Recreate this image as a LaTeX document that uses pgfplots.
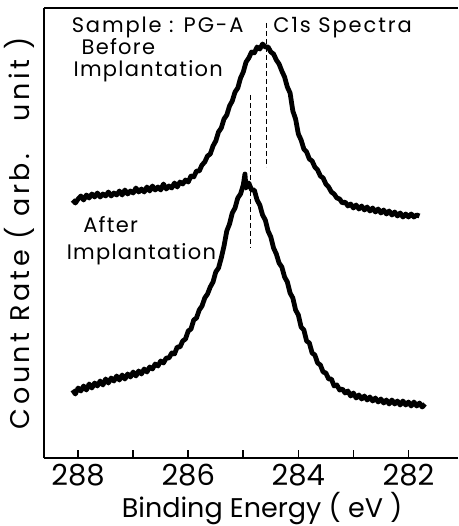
\documentclass[border=0pt]{standalone}
\usepackage{fontspec}
\setmainfont{Poppins}
\usepackage{pgfplots}
\pgfplotsset{compat=1.18}
\pgfplotstableread{
x y
288.10 258
288.05 255
288.00 259
287.95 262
287.90 258
287.85 263
287.80 260
287.75 264
287.70 261
287.65 265
287.60 261
287.55 264
287.50 262
287.45 266
287.40 262
287.35 265
287.30 263
287.25 267
287.20 263
287.15 268
287.10 264
287.05 267
287.00 265
286.95 270
286.90 266
286.85 269
286.80 266
286.75 271
286.70 267
286.65 272
286.60 268
286.55 271
286.50 268
286.45 274
286.40 269
286.35 272
286.30 270
286.25 275
286.20 271
286.15 276
286.10 274
286.05 278
286.00 276
285.95 282
285.90 281
285.85 287
285.80 287
285.75 293
285.70 296
285.65 302
285.60 304
285.55 312
285.50 317
285.45 326
285.40 330
285.35 339
285.30 343
285.25 352
285.20 357
285.15 366
285.10 370
285.05 380
285.00 386
284.95 396
284.90 400
284.85 406
284.80 405
284.75 411
284.70 409
284.65 414
284.60 411
284.55 411
284.50 406
284.45 404
284.40 398
284.35 394
284.30 387
284.25 381
284.20 371
284.15 365
284.10 347
284.05 339
284.00 324
283.95 318
283.90 309
283.85 306
283.80 299
283.75 297
283.70 291
283.65 288
283.60 282
283.55 280
283.50 274
283.45 271
283.40 266
283.35 264
283.30 260
283.25 259
283.20 255
283.15 256
283.10 252
283.05 254
283.00 250
282.95 253
282.90 249
282.85 252
282.80 248
282.75 251
282.70 247
282.65 250
282.60 246
282.55 249
282.50 245
282.45 248
282.40 244
282.35 247
282.30 243
282.25 246
282.20 242
282.15 245
282.10 241
282.05 244
282.00 241
281.95 244
281.90 241
281.85 243
281.80 242
}\before
\pgfplotstableread{
x y
288.10 68
288.05 64
288.00 70
287.95 67
287.90 72
287.85 68
287.80 74
287.75 70
287.70 75
287.65 72
287.60 77
287.55 73
287.50 79
287.45 75
287.40 80
287.35 77
287.30 82
287.25 78
287.20 83
287.15 79
287.10 84
287.05 81
287.00 86
286.95 82
286.90 87
286.85 84
286.80 89
286.75 86
286.70 91
286.65 89
286.60 94
286.55 92
286.50 97
286.45 95
286.40 100
286.35 100
286.30 105
286.25 104
286.20 111
286.15 111
286.10 117
286.05 119
286.00 127
285.95 129
285.90 138
285.85 140
285.80 148
285.75 152
285.70 160
285.65 164
285.60 171
285.55 176
285.50 186
285.45 190
285.40 200
285.35 212
285.30 227
285.25 234
285.20 245
285.15 250
285.10 260
285.05 264
285.00 273
284.97 284
284.95 270
284.90 275
284.85 268
284.80 268
284.75 258
284.70 253
284.65 243
284.60 238
284.55 227
284.50 221
284.45 210
284.40 204
284.35 195
284.30 191
284.25 181
284.20 176
284.15 165
284.10 160
284.05 148
284.00 143
283.95 131
283.90 128
283.85 117
283.80 115
283.75 105
283.70 103
283.65 95
283.60 93
283.55 86
283.50 85
283.45 79
283.40 79
283.35 72
283.30 73
283.25 68
283.20 69
283.15 65
283.10 67
283.05 62
283.00 65
282.95 60
282.90 63
282.85 59
282.80 62
282.75 58
282.70 61
282.65 57
282.60 60
282.55 56
282.50 59
282.45 55
282.40 58
282.35 54
282.30 58
282.25 54
282.20 57
282.15 53
282.10 57
282.05 53
282.00 56
281.95 52
281.90 56
281.85 52
281.80 55
281.75 51
281.70 54
}\after
\begin{document}
\begin{tikzpicture}
\path[use as bounding box] (-44pt,-68pt) rectangle (414pt,458pt);
\begin{axis}[
  at={(0,0)}, anchor=south west,
  scale only axis, width=414pt, height=450pt,
  x dir=reverse, xmin=281.1, xmax=288.62, ymin=0, ymax=450,
  axis lines=left, axis line style={-, line width=1.6pt},
  ytick=\empty,
  xtick={282,283,284,285,286,287,288},
  xticklabels={282,,284,,286,,288},
  tick align=inside, major tick length=8pt,
  tick style={line width=1.6pt, black},
  font=\fontsize{29}{33}\selectfont,
  xticklabel style={anchor=center, yshift=-17pt},
  every axis x label/.style={at={(axis description cs:0.527,0)}, yshift=-59pt, anchor=base},
  every axis y label/.style={at={(axis description cs:0,0.5)}, xshift=-14pt, rotate=90, anchor=base},
  xlabel={\fontsize{27}{31}\selectfont Binding Energy ( eV )},
  ylabel={\fontsize{27}{31}\selectfont\addfontfeature{LetterSpace=13}Count Rate ( arb.\ \ \ unit )},
  clip=false,
]
\draw[line width=1.6pt] (rel axis cs:0,1) -- (rel axis cs:1,1);
\addplot[black, line width=4.8pt, line join=round] table[x=x,y=y] {\before};
\addplot[black, line width=4.8pt, line join=round] table[x=x,y=y] {\after};
\addplot[black, line width=1.2pt, dash pattern=on 5pt off 3pt] coordinates {(284.58,435) (284.58,291)};
\addplot[black, line width=1.2pt, dash pattern=on 5pt off 3pt] coordinates {(284.87,363) (284.87,210)};
\node[anchor=base west, font=\fontsize{21}{25}\selectfont] at (axis cs:288.18,425) {\addfontfeature{LetterSpace=9}Sample : PG-A};
\node[anchor=base west, font=\fontsize{21}{25}\selectfont] at (axis cs:284.52,425) {\addfontfeature{LetterSpace=9}C1s Spectra};
\node[anchor=base west, font=\fontsize{21}{25}\selectfont] at (axis cs:288.0,403) {\addfontfeature{LetterSpace=6}Before};
\node[anchor=base west, font=\fontsize{21}{25}\selectfont] at (axis cs:288.145,381) {\addfontfeature{LetterSpace=6}Implantation};
\node[anchor=base west, font=\fontsize{21}{25}\selectfont] at (axis cs:287.97,225) {\addfontfeature{LetterSpace=6}After};
\node[anchor=base west, font=\fontsize{21}{25}\selectfont] at (axis cs:288.27,198) {\addfontfeature{LetterSpace=6}Implantation};
\end{axis}
\end{tikzpicture}
\end{document}
